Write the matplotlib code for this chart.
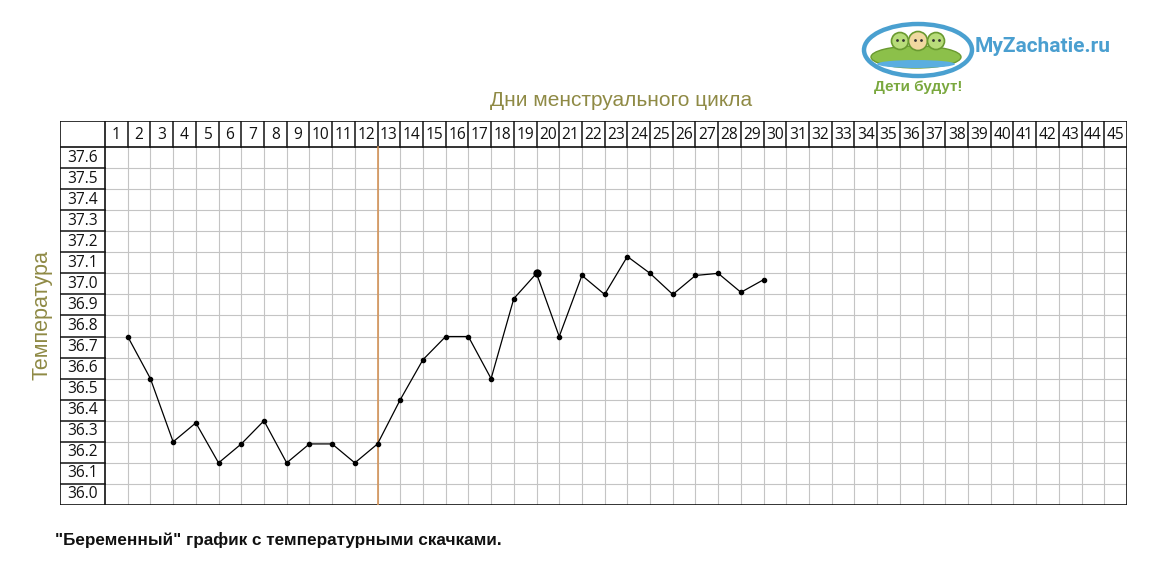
import numpy as np
import matplotlib
matplotlib.use("Agg")
import matplotlib.pyplot as plt
from matplotlib.patches import Ellipse, Circle

# ---- data ----
days = list(range(1, 30))
temps = [36.75, 36.55, 36.25, 36.34, 36.15, 36.24, 36.35, 36.15, 36.24, 36.24,
         36.15, 36.24, 36.45, 36.64, 36.75, 36.75, 36.55, 36.93, 37.05, 36.75,
         37.04, 36.95, 37.13, 37.05, 36.95, 37.04, 37.05, 36.96, 37.02]
day_labels = [str(d) for d in range(1, 46)]
row_labels = ["%.1f" % t for t in np.arange(37.6, 35.95, -0.1)]
ovulation_day = 12
big_point_day = 19

title_x = "Дни менструального цикла"
title_y = "Температура"
caption = '"Беременный" график с температурными скачками.'

plt.rcParams["font.family"] = ["Liberation Sans", "DejaVu Sans"]

W, H = 1162, 582
fig = plt.figure(figsize=(W / 100, H / 100), dpi=100)

# table geometry in pixels of the reference
left_px, right_px, top_px, bottom_px = 60, 1127, 121, 505
col_w = (right_px - 105) / 45.0
row_h = (bottom_px - 147) / 17.0
lab_w = (105 - left_px) / col_w          # label column width in day units
hdr_h = (147 - top_px) / row_h * 0.1     # header row height in degrees

ax = fig.add_axes([left_px / W, 1 - bottom_px / H,
                   (right_px - left_px) / W, (bottom_px - top_px) / H])
ymin, ymax = 35.95, 37.65
ax.set_xlim(-lab_w, 45)
ax.set_ylim(ymin, ymax + hdr_h)
ax.axis("off")

grid_c = "#c4c4c4"
blk = "#111111"

# grid inside
for x in range(1, 45):
    ax.plot([x, x], [ymin, ymax], color=grid_c, lw=0.8, zorder=1)
    ax.plot([x, x], [ymax, ymax + hdr_h], color=blk, lw=1.1, zorder=2)
for j in range(1, 17):
    y = ymin + 0.1 * j
    ax.plot([0, 45], [y, y], color=grid_c, lw=0.8, zorder=1)
    ax.plot([-lab_w, 0], [y, y], color=blk, lw=1.1, zorder=2)

# borders
for x in (-lab_w, 0, 45):
    ax.plot([x, x], [ymin, ymax + hdr_h], color=blk, lw=1.2, zorder=3)
for y in (ymin, ymax, ymax + hdr_h):
    ax.plot([-lab_w, 45], [y, y], color=blk, lw=1.2, zorder=3)

# header and row labels
cell_font = ["Open Sans", "DejaVu Sans"]
for i, lab in enumerate(day_labels):
    ax.text(i + 0.5, ymax + hdr_h * 0.45, lab, ha="center", va="center",
            fontsize=11.2, family=cell_font, color="#111111")
for i, lab in enumerate(row_labels):
    ax.text(-lab_w / 2, 37.6 - 0.1 * i, lab, ha="center", va="center",
            fontsize=11.2, family=cell_font, color="#111111")

# ovulation line
ax.plot([ovulation_day, ovulation_day], [ymin - 0.02, ymax], color="#d4945a",
        lw=1.2, zorder=4)

# temperature curve
ax.plot(days, temps, color="black", lw=0.9, marker="o", markersize=3,
        zorder=5, clip_on=False)
bi = days.index(big_point_day)
ax.plot([days[bi]], [temps[bi]], "o", color="black", markersize=5, zorder=6)

# titles
olive = "#8f8a45"
fig.text(621 / W, 1 - 100 / H, title_x, ha="center", va="center",
         fontsize=15, color=olive)
fig.text(42 / W, 1 - 315 / H, title_y, ha="center", va="center",
         fontsize=15.5, color=olive, rotation=90)
fig.text(55 / W, 1 - 540 / H, caption, ha="left", va="center",
         fontsize=12.3, fontweight="bold", color="#111111")

# logo
lax = fig.add_axes([0, 0, 1, 1], zorder=-1)
lax.set_xlim(0, W)
lax.set_ylim(H, 0)
lax.axis("off")
lax.add_patch(Ellipse((918, 50), 108, 52, fill=False, ec="#4aa0d0", lw=3.2))
lax.add_patch(Ellipse((916, 57), 90, 22, fc="#8cc04a", ec="#6a9a30", lw=1))
lax.add_patch(Ellipse((916, 64), 78, 8, fc="#5aaee0", ec="none"))
for cx, r, fc in ((900, 8.5, "#b8dc7a"), (918, 9.5, "#f0d8a0"), (936, 8.5, "#b8dc7a")):
    lax.add_patch(Circle((cx, 41), r, fc=fc, ec="#6a9a30", lw=1.2))
    lax.plot([cx - 3, cx + 3], [40, 40], ".", color="#333333", markersize=2)
fig.text(975 / W, 1 - 46 / H, "MyZachatie.ru", ha="left", va="center",
         fontsize=15, fontweight="bold", color="#4a9fd0",
         family=["Roboto", "DejaVu Sans"])
fig.text(918 / W, 1 - 87 / H, "Дети будут!", ha="center", va="center",
         fontsize=11, fontweight="bold", color="#7aa83e")

fig.savefig("out.png", dpi=100, facecolor="white")
